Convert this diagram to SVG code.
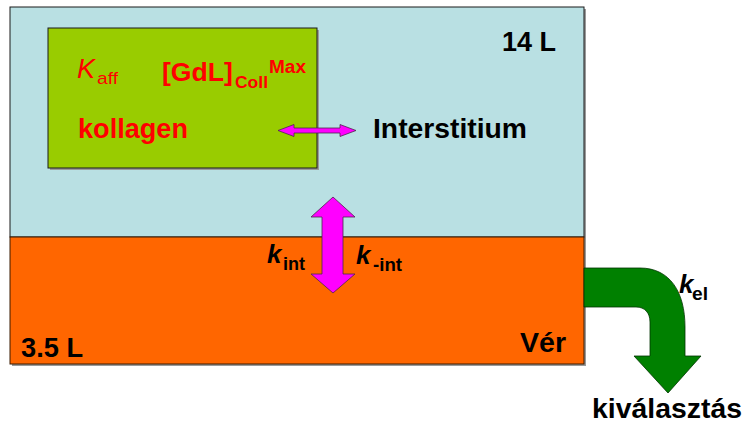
<svg xmlns="http://www.w3.org/2000/svg" width="745" height="428" viewBox="0 0 745 428">
<style>
.t{font-family:"Liberation Sans",Arial,sans-serif;font-weight:bold;fill:#000}
.r{font-family:"Liberation Sans",Arial,sans-serif;font-weight:bold;fill:#FF0000}
.k{font-family:"Liberation Sans",Arial,sans-serif;font-weight:bold;font-style:italic;fill:#000}
.arrowM{fill:#FF00FF;stroke:#4d2a4d;stroke-width:0.8}
.shadow{fill:#9a9a9a}
</style>
<rect width="745" height="428" fill="#FFFFFF"/>
<g id="interstitium">
<rect class="shadow" x="12" y="9" width="574" height="230"/>
<rect x="10" y="7" width="574" height="230" fill="#B9E0E3" stroke="#1a1a1a" stroke-width="1"/>
<text class="t" x="502" y="51" font-size="27">14 L</text>
<text class="t" x="373" y="138" font-size="27" textLength="154" lengthAdjust="spacingAndGlyphs">Interstitium</text>
</g>
<g id="ver">
<rect class="shadow" x="12" y="239" width="574" height="127"/>
<rect x="10" y="237" width="574" height="127" fill="#FF6600" stroke="#3a1a00" stroke-width="1"/>
<text class="t" x="21" y="357" font-size="27" textLength="62" lengthAdjust="spacingAndGlyphs">3.5 L</text>
<text class="t" x="520" y="352" font-size="27" textLength="46" lengthAdjust="spacingAndGlyphs">Vér</text>
</g>
<g id="kollagen">
<rect class="shadow" x="50" y="30" width="269" height="140"/>
<rect x="48" y="28" width="269" height="140" fill="#99CC00" stroke="#1a1a1a" stroke-width="1"/>
<text x="77" y="78" font-size="27" font-family="'Liberation Sans',Arial,sans-serif" font-style="italic" fill="#FF0000">K</text>
<text x="97" y="84" font-size="17" font-family="'Liberation Sans',Arial,sans-serif" fill="#FF0000" textLength="21" lengthAdjust="spacingAndGlyphs">aff</text>
<text class="r" x="162" y="81" font-size="26" textLength="71" lengthAdjust="spacingAndGlyphs">[GdL]</text>
<text class="r" x="235" y="88" font-size="17" textLength="33" lengthAdjust="spacingAndGlyphs">Coll</text>
<text class="r" x="269" y="73" font-size="18" textLength="37" lengthAdjust="spacingAndGlyphs">Max</text>
<text class="r" x="78" y="138" font-size="27" textLength="110" lengthAdjust="spacingAndGlyphs">kollagen</text>
</g>
<g id="kivalasztas">
<text class="t" x="592" y="418" font-size="27" textLength="150" lengthAdjust="spacingAndGlyphs">kiválasztás</text>
</g>
<g id="connectors">
<path class="arrowM" d="M278,130.5 L294,124.5 L294,128 L340,128 L340,124.5 L356,130.5 L340,136.5 L340,133 L294,133 L294,136.5 Z"/>
<path class="arrowM" d="M333,197 L355,217 L343,217 L343,274 L355,274 L333,293 L311,274 L322,274 L322,217 L311,217 Z"/>
<text class="k" x="267" y="263" font-size="26">k</text>
<text class="t" x="283" y="270" font-size="18" textLength="22" lengthAdjust="spacingAndGlyphs">int</text>
<text class="k" x="356" y="264" font-size="26">k</text>
<text class="t" x="373" y="271" font-size="18" textLength="29" lengthAdjust="spacingAndGlyphs">-int</text>
<path d="M584,268 L640,268 C670,268 685,292 685,327 L685,356 L701,356 L668,393 L634,356 L650,356 L650,322 C650,313 645,307 636,307 L584,307 Z" fill="#008000" stroke="#003300" stroke-width="0.8"/>
<text class="k" x="679" y="293" font-size="26">k</text>
<text class="t" x="692" y="300" font-size="18" textLength="16" lengthAdjust="spacingAndGlyphs">el</text>
</g>
</svg>
